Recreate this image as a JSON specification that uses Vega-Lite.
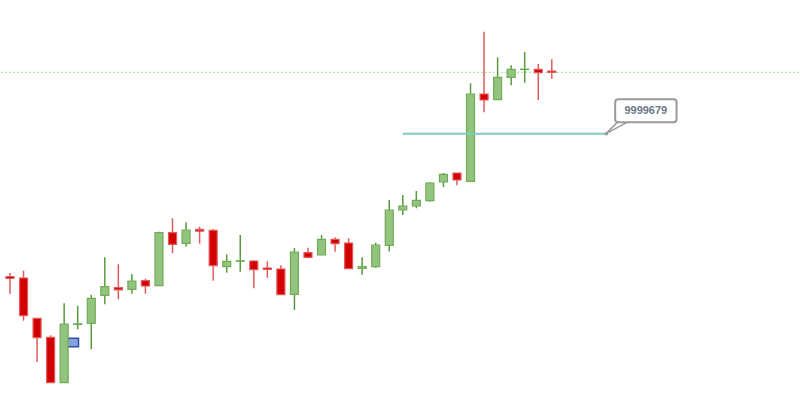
{
  "$schema": "https://vega.github.io/schema/vega-lite/v6.json",
  "width": 800,
  "height": 395,
  "autosize": {"type": "fit", "contains": "padding"},
  "padding": 0,
  "background": "white",
  "config": {"view": {"stroke": null}, "scale": {"continuousPadding": 0}},
  "datasets": {
    "candles": [
      {"i": 0, "open": 118.5, "close": 116.5, "high": 122, "low": 101},
      {"i": 1, "open": 117, "close": 79.3, "high": 124.3, "low": 74.3},
      {"i": 2, "open": 76.7, "close": 57.3, "high": 76.7, "low": 33},
      {"i": 3, "open": 57.7, "close": 12.3, "high": 59.7, "low": 12.3},
      {"i": 4, "open": 12.3, "close": 71, "high": 91.7, "low": 12.3},
      {"i": 5, "open": 70.6, "close": 71.2, "high": 89.3, "low": 65.7},
      {"i": 6, "open": 71.7, "close": 96.7, "high": 100, "low": 45.7},
      {"i": 7, "open": 99.7, "close": 108.3, "high": 137.7, "low": 90.7},
      {"i": 8, "open": 107.3, "close": 105.2, "high": 130.7, "low": 95.7},
      {"i": 9, "open": 105.7, "close": 114, "high": 121, "low": 101.3},
      {"i": 10, "open": 114.3, "close": 109, "high": 116.3, "low": 101.3},
      {"i": 11, "open": 109.3, "close": 162.3, "high": 163.3, "low": 109.3},
      {"i": 12, "open": 162.3, "close": 150.7, "high": 176.7, "low": 141.7},
      {"i": 13, "open": 151.7, "close": 165, "high": 172.7, "low": 148.3},
      {"i": 14, "open": 165.6, "close": 163.8, "high": 168.3, "low": 151.3},
      {"i": 15, "open": 164.7, "close": 129.3, "high": 166, "low": 114.3},
      {"i": 16, "open": 128.3, "close": 133.7, "high": 140.7, "low": 122.3},
      {"i": 17, "open": 133.8, "close": 134.3, "high": 160, "low": 123.3},
      {"i": 18, "open": 134, "close": 125.3, "high": 134.7, "low": 106.7},
      {"i": 19, "open": 127, "close": 125.5, "high": 133.7, "low": 117.3},
      {"i": 20, "open": 126, "close": 100.3, "high": 129.7, "low": 100.3},
      {"i": 21, "open": 100.7, "close": 143, "high": 147, "low": 85},
      {"i": 22, "open": 142.3, "close": 137.7, "high": 147.3, "low": 136.7},
      {"i": 23, "open": 140, "close": 155.7, "high": 160, "low": 140},
      {"i": 24, "open": 155.7, "close": 151.3, "high": 157.7, "low": 143.3},
      {"i": 25, "open": 152, "close": 126.3, "high": 156.7, "low": 126.3},
      {"i": 26, "open": 126.6, "close": 128.5, "high": 137.7, "low": 120.3},
      {"i": 27, "open": 128.3, "close": 150, "high": 152.3, "low": 127.3},
      {"i": 28, "open": 149.5, "close": 185, "high": 195, "low": 143.5},
      {"i": 29, "open": 185, "close": 189, "high": 200, "low": 180},
      {"i": 30, "open": 189, "close": 194.7, "high": 204, "low": 186.7},
      {"i": 31, "open": 194.3, "close": 212, "high": 213, "low": 193.3},
      {"i": 32, "open": 213, "close": 220.7, "high": 222, "low": 208},
      {"i": 33, "open": 222, "close": 215, "high": 222, "low": 209.7},
      {"i": 34, "open": 213.7, "close": 301, "high": 311.7, "low": 213.7},
      {"i": 35, "open": 301, "close": 295, "high": 363.3, "low": 282.7},
      {"i": 36, "open": 295.3, "close": 317.7, "high": 337.7, "low": 295.3},
      {"i": 37, "open": 317.7, "close": 325.7, "high": 329.7, "low": 309.7},
      {"i": 38, "open": 325.5, "close": 325.9, "high": 343, "low": 312.3},
      {"i": 39, "open": 325.7, "close": 322.3, "high": 331, "low": 295},
      {"i": 40, "open": 324, "close": 322.7, "high": 335.7, "low": 316.3}
    ],
    "current": [{"price": 322.7}],
    "level": [{"start": 29, "end": 44.03, "price": 261.3}],
    "zone": [{"start": 4, "end": 5.06, "top": 56.7, "bottom": 48.3}],
    "pointer": [
      {"x1": 44.03, "y1": 261.6, "x2": 44.85, "y2": 272.9},
      {"x1": 44.03, "y1": 261.6, "x2": 45.6, "y2": 272.9}
    ],
    "callout": [{"left": 44.68, "right": 49.21, "mid": 46.94, "top": 295.7, "bottom": 272.7, "ymid": 284.2, "label": "9999679", "px": 44.03, "py": 261.3}]
  },
  "layer": [
    {
      "data": {"name": "zone"},
      "mark": {"type": "rect", "fill": "#86a2dc", "stroke": "#2e4fa6", "strokeWidth": 1.5},
      "encoding": {
        "x": {"field": "start", "type": "quantitative", "scale": {"domain": [-0.663, 58.25], "nice": false, "zero": false, "padding": 0}, "axis": null},
        "x2": {"field": "end"},
        "y": {"field": "top", "type": "quantitative", "scale": {"domain": [0, 395], "nice": false, "zero": false, "padding": 0}, "axis": null},
        "y2": {"field": "bottom"}
      }
    },
    {
      "data": {"name": "current"},
      "mark": {"type": "rule", "color": "#99e699", "strokeDash": [2, 2], "strokeWidth": 1},
      "encoding": {
        "y": {"field": "price", "type": "quantitative", "axis": null}
      }
    },
    {
      "data": {"name": "candles"},
      "mark": {"type": "rule", "strokeWidth": 1.5},
      "encoding": {
        "x": {"field": "i", "type": "quantitative", "axis": null},
        "y": {"field": "low", "type": "quantitative", "axis": null},
        "y2": {"field": "high"},
        "color": {"condition": {"test": "datum.open > datum.close", "value": "#e05c5c"}, "value": "#5a9a3e"}
      }
    },
    {
      "data": {"name": "candles"},
      "mark": {"type": "bar", "size": 8, "strokeWidth": 1.2},
      "encoding": {
        "x": {"field": "i", "type": "quantitative", "axis": null},
        "y": {"field": "open", "type": "quantitative", "axis": null},
        "y2": {"field": "close"},
        "fill": {"condition": {"test": "datum.open > datum.close", "value": "#d20000"}, "value": "#93c47d"},
        "stroke": {"condition": {"test": "datum.open > datum.close", "value": "#e25a5a"}, "value": "#72ab58"}
      }
    },
    {
      "data": {"name": "level"},
      "mark": {"type": "rule", "color": "#7fcbc2", "strokeWidth": 2},
      "encoding": {
        "x": {"field": "start", "type": "quantitative", "axis": null},
        "x2": {"field": "end"},
        "y": {"field": "price", "type": "quantitative", "axis": null}
      }
    },
    {
      "data": {"name": "pointer"},
      "mark": {"type": "rule", "color": "#9a9a9a", "strokeWidth": 1.5},
      "encoding": {
        "x": {"field": "x1", "type": "quantitative", "axis": null},
        "x2": {"field": "x2"},
        "y": {"field": "y1", "type": "quantitative", "axis": null},
        "y2": {"field": "y2"}
      }
    },
    {
      "data": {"name": "callout"},
      "mark": {"type": "rect", "fill": "white", "stroke": "#9a9a9a", "strokeWidth": 2, "cornerRadius": 3},
      "encoding": {
        "x": {"field": "left", "type": "quantitative", "axis": null},
        "x2": {"field": "right"},
        "y": {"field": "top", "type": "quantitative", "axis": null},
        "y2": {"field": "bottom"}
      }
    },
    {
      "data": {"name": "callout"},
      "mark": {"type": "point", "filled": true, "color": "#9a9a9a", "size": 12, "opacity": 1},
      "encoding": {
        "x": {"field": "px", "type": "quantitative", "axis": null},
        "y": {"field": "py", "type": "quantitative", "axis": null}
      }
    },
    {
      "data": {"name": "callout"},
      "mark": {"type": "text", "font": "Liberation Sans", "fontSize": 11, "fontWeight": "bold", "color": "#6b7888", "align": "center", "baseline": "middle"},
      "encoding": {
        "x": {"field": "mid", "type": "quantitative", "axis": null},
        "y": {"field": "ymid", "type": "quantitative", "axis": null},
        "text": {"field": "label"}
      }
    }
  ]
}
